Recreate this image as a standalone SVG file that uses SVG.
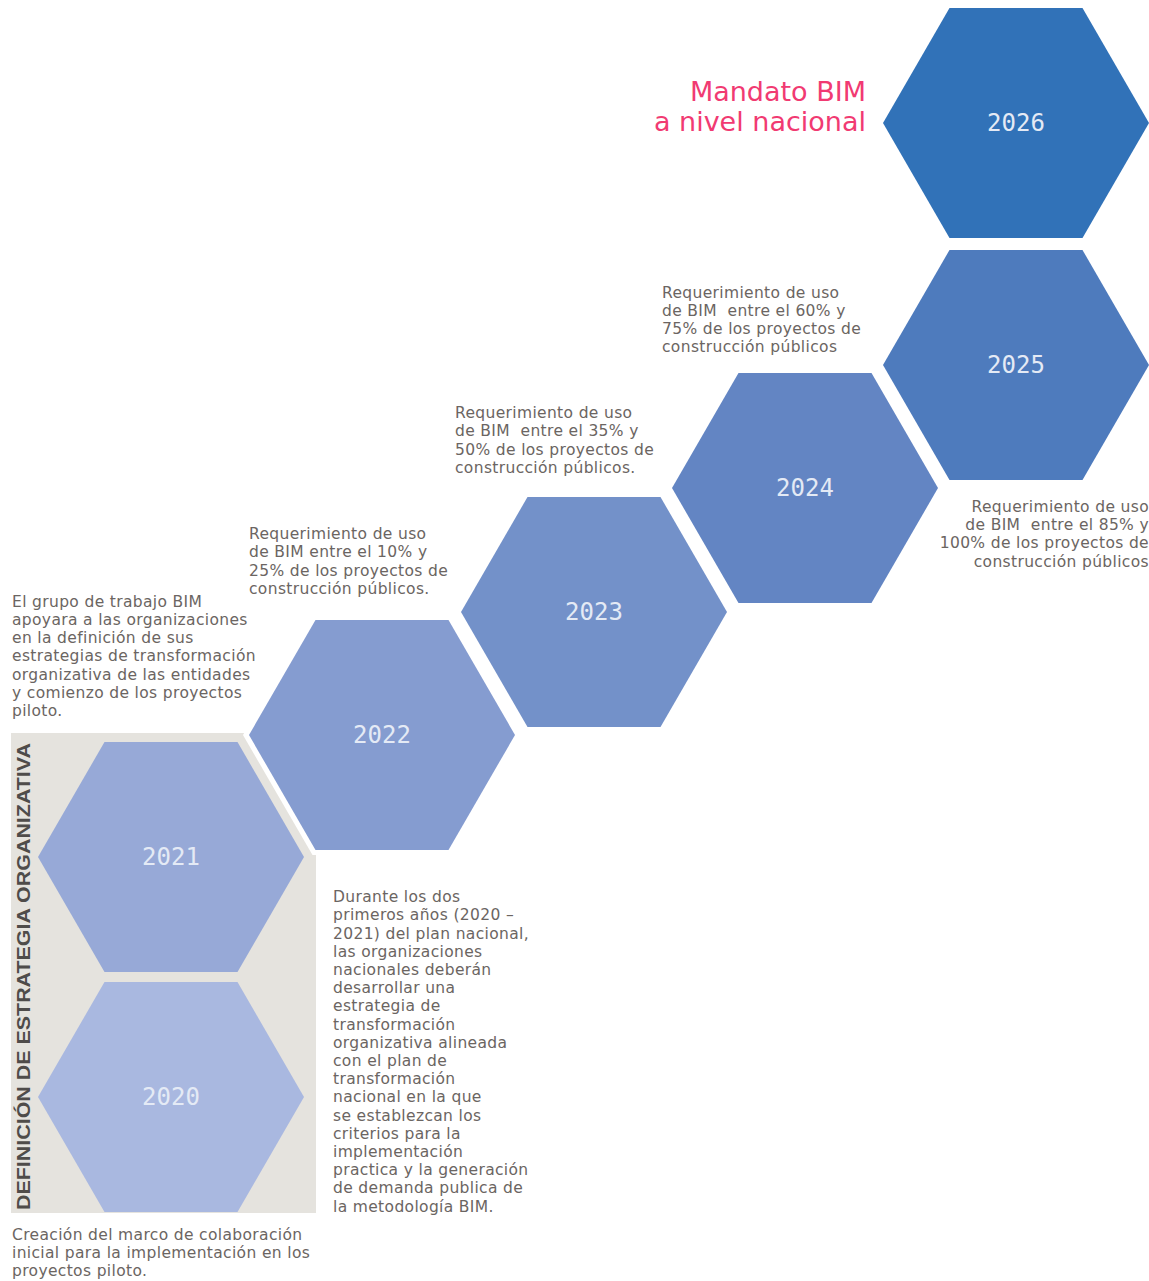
<svg xmlns="http://www.w3.org/2000/svg" width="1149" height="1281" viewBox="0 0 1149 1281">
<style>
.yr{font-family:"DejaVu Sans Mono","Liberation Mono",monospace;font-size:24px;fill:#e4eaf5;text-anchor:middle}
.body{font-family:"DejaVu Sans","Liberation Sans",sans-serif;font-size:15.5px;letter-spacing:0.35px;fill:#6b6562}
.end{text-anchor:end}
.pink{font-family:"DejaVu Sans","Liberation Sans",sans-serif;font-size:27px;fill:#f13a72;text-anchor:end}
.vert{font-family:"Liberation Sans","DejaVu Sans",sans-serif;font-size:19px;font-weight:bold;fill:#4f4c4a}
</style>
<defs>
<polygon id="hex" points="-133,0 -66.5,-115 66.5,-115 133,0 66.5,115 -66.5,115"/>
<polygon id="hexw" points="-139,0 -69.5,-120 69.5,-120 139,0 69.5,120 -69.5,120"/>
</defs>
<rect width="1149" height="1281" fill="#ffffff"/>
<rect id="band" x="11" y="733" width="305" height="480" fill="#e5e3de"/>
<g id="connectors"></g>
<g id="n2020"><use href="#hex" transform="translate(171,1097)" fill="#a9b8e0"/><text class="yr" x="171" y="1105">2020</text></g>
<g id="n2021"><use href="#hex" transform="translate(171,857)" fill="#97a9d7"/><text class="yr" x="171" y="865">2021</text></g>
<g id="n2022"><use href="#hexw" transform="translate(382,735)" fill="#ffffff"/><use href="#hex" transform="translate(382,735)" fill="#859cd0"/><text class="yr" x="382" y="743">2022</text></g>
<g id="n2023"><use href="#hex" transform="translate(594,612)" fill="#7391c9"/><text class="yr" x="594" y="620">2023</text></g>
<g id="n2024"><use href="#hex" transform="translate(805,488)" fill="#6385c3"/><text class="yr" x="805" y="496">2024</text></g>
<g id="n2025"><use href="#hex" transform="translate(1016,365)" fill="#4e7bbd"/><text class="yr" x="1016" y="373">2025</text></g>
<g id="n2026"><use href="#hex" transform="translate(1016,123)" fill="#3172b8"/><text class="yr" x="1016" y="131">2026</text></g>
<g id="title"><text class="pink" x="866" y="101">Mandato BIM</text><text class="pink" x="866" y="131">a nivel nacional</text></g>
<g id="vertical"><text class="vert" transform="translate(30,1210) rotate(-90)" textLength="467" lengthAdjust="spacingAndGlyphs">DEFINICIÓN DE ESTRATEGIA ORGANIZATIVA</text></g>
<g id="t2024" class="body">
<text x="662" y="298">Requerimiento de uso</text>
<text x="662" y="316" xml:space="preserve">de BIM  entre el 60% y</text>
<text x="662" y="334">75% de los proyectos de</text>
<text x="662" y="352">construcción públicos</text>
</g>
<g id="t2023" class="body">
<text x="455" y="418">Requerimiento de uso</text>
<text x="455" y="436" xml:space="preserve">de BIM  entre el 35% y</text>
<text x="455" y="455">50% de los proyectos de</text>
<text x="455" y="473">construcción públicos.</text>
</g>
<g id="t2022" class="body">
<text x="249" y="539">Requerimiento de uso</text>
<text x="249" y="557">de BIM entre el 10% y</text>
<text x="249" y="576">25% de los proyectos de</text>
<text x="249" y="594">construcción públicos.</text>
</g>
<g id="t2025" class="body end">
<text x="1149" y="512">Requerimiento de uso</text>
<text x="1149" y="530" xml:space="preserve">de BIM  entre el 85% y</text>
<text x="1149" y="548">100% de los proyectos de</text>
<text x="1149" y="567">construcción públicos</text>
</g>
<g id="t2021" class="body">
<text x="12" y="607">El grupo de trabajo BIM</text>
<text x="12" y="625">apoyara a las organizaciones</text>
<text x="12" y="643">en la definición de sus</text>
<text x="12" y="661">estrategias de transformación</text>
<text x="12" y="680">organizativa de las entidades</text>
<text x="12" y="698">y comienzo de los proyectos</text>
<text x="12" y="716">piloto.</text>
</g>
<g id="tdurante" class="body">
<text x="333" y="902">Durante los dos</text>
<text x="333" y="920">primeros años (2020 –</text>
<text x="333" y="939">2021) del plan nacional,</text>
<text x="333" y="957">las organizaciones</text>
<text x="333" y="975">nacionales deberán</text>
<text x="333" y="993">desarrollar una</text>
<text x="333" y="1011">estrategia de</text>
<text x="333" y="1030">transformación</text>
<text x="333" y="1048">organizativa alineada</text>
<text x="333" y="1066">con el plan de</text>
<text x="333" y="1084">transformación</text>
<text x="333" y="1102">nacional en la que</text>
<text x="333" y="1121">se establezcan los</text>
<text x="333" y="1139">criterios para la</text>
<text x="333" y="1157">implementación</text>
<text x="333" y="1175">practica y la generación</text>
<text x="333" y="1193">de demanda publica de</text>
<text x="333" y="1212">la metodología BIM.</text>
</g>
<g id="t2020" class="body">
<text x="12" y="1240">Creación del marco de colaboración</text>
<text x="12" y="1258">inicial para la implementación en los</text>
<text x="12" y="1276">proyectos piloto.</text>
</g>
</svg>
